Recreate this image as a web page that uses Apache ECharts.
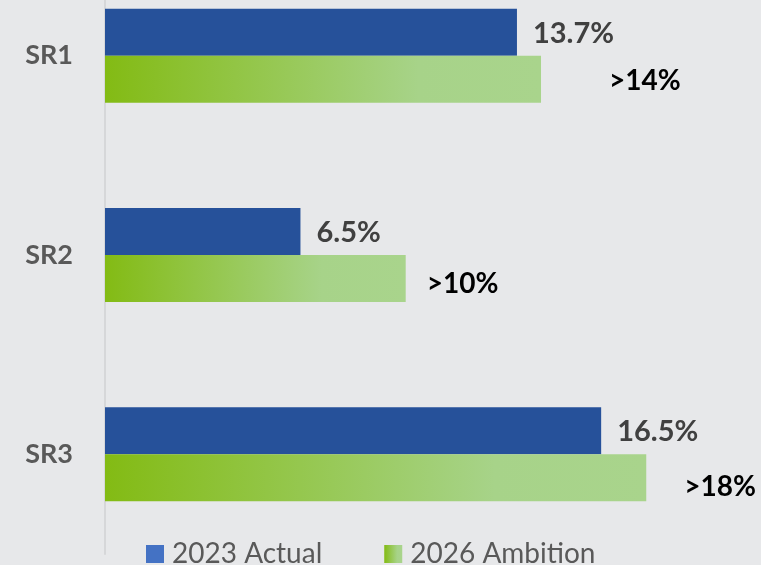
<!DOCTYPE html>
<html>
<head>
<meta charset="utf-8">
<script src="https://cdn.jsdelivr.net/npm/echarts@6/dist/echarts.min.js"></script>
<style>
  html, body { margin: 0; padding: 0; background: #e7e8ea; }
  #chart { width: 761px; height: 565px; }
</style>
</head>
<body>
<div id="chart"></div>
<script>
// Segments, top to bottom
const categories = ['SR1', 'SR2', 'SR3'];
// Return figures in percent
const actual2023 = [13.7, 6.5, 16.5];
const ambition2026 = [14.5, 10, 18];
const ambitionLabels = ['>14%', '>10%', '>18%'];
const seriesNames = ['2023 Actual', '2026 Ambition'];

// Placement of the ambition labels (gap from bar end, vertical shift)
const ambitionLabelLayout = [[68, 2], [21, 5], [38, 9]];

const FONT = 'Lato, "Open Sans", sans-serif';

// green fades to a pale tint across roughly three quarters of each bar
const greenFill = new echarts.graphic.LinearGradient(0, 0, 1, 0, [
  { offset: 0, color: '#83bb14' },
  { offset: 0.72, color: '#a7d389' },
  { offset: 1, color: '#a9d48c' }
]);

const chart = echarts.init(document.getElementById('chart'), null, { renderer: 'canvas' });

chart.setOption({
  backgroundColor: '#e7e8ea',
  animation: false,
  // the plot runs past the top edge so only the lower part of the first band shows
  grid: {
    left: 105, width: 601.4, top: -44, height: 598,
    containLabel: false,
    outerBoundsMode: 'none'
  },
  xAxis: {
    type: 'value',
    min: 0,
    max: 20,
    show: false
  },
  yAxis: {
    type: 'category',
    data: categories,
    inverse: true,
    axisLine: { show: true, lineStyle: { color: '#d6d7d9', width: 2 } },
    axisTick: { show: false },
    axisLabel: {
      margin: 32,
      fontFamily: FONT,
      fontWeight: 'bold',
      fontSize: 27,
      color: '#595959'
    }
  },
  legend: {
    left: 141,
    top: 535,
    icon: 'rect',
    itemWidth: 18,
    itemHeight: 18,
    itemGap: 62,
    textStyle: { fontFamily: FONT, fontSize: 28, color: '#595959', lineHeight: 18, padding: [0, 0, 10, 3] },
    data: [
      { name: seriesNames[0], itemStyle: { color: '#4472c4' } },
      { name: seriesNames[1] }
    ]
  },
  series: [
    {
      name: seriesNames[0],
      type: 'bar',
      data: actual2023,
      barWidth: 47,
      barGap: '0%',
      itemStyle: { color: '#26519a' },
      label: {
        show: true,
        position: 'right',
        distance: 16,
        offset: [0, 1],
        formatter: p => p.value.toFixed(1) + '%',
        fontFamily: FONT,
        fontWeight: 'bold',
        fontSize: 29,
        color: '#404040'
      }
    },
    {
      name: seriesNames[1],
      type: 'bar',
      barWidth: 47,
      barGap: '0%',
      itemStyle: { color: greenFill },
      data: ambition2026.map((v, i) => ({
        value: v,
        label: {
          show: true,
          position: 'right',
          distance: ambitionLabelLayout[i][0],
          offset: [0, ambitionLabelLayout[i][1]],
          formatter: ambitionLabels[i],
          fontFamily: FONT,
          fontWeight: 'bold',
          fontSize: 28,
          color: '#000000'
        }
      }))
    }
  ]
});
</script>
</body>
</html>
